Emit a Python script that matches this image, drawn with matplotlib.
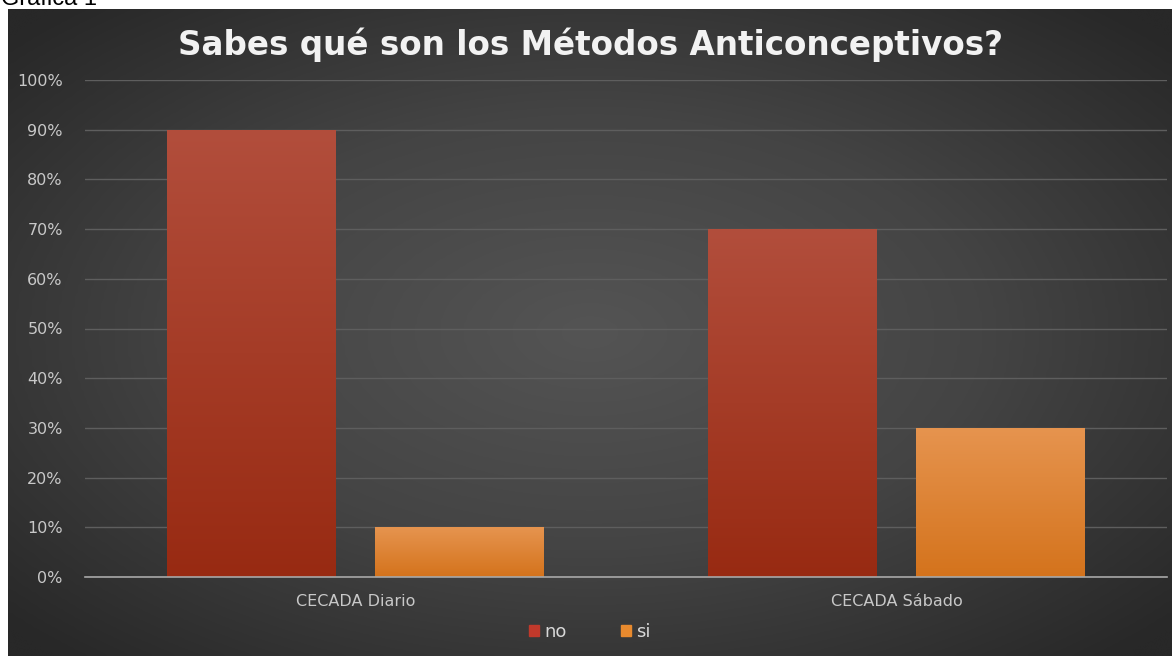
import numpy as np
import matplotlib.pyplot as plt
from matplotlib.colors import LinearSegmentedColormap
from matplotlib.patches import Rectangle

# Data
categories = ['CECADA Diario', 'CECADA Sábado']
series = ['no', 'si']
no_vals = [0.90, 0.70]
si_vals = [0.10, 0.30]
yticks = [0.0, 0.1, 0.2, 0.3, 0.4, 0.5, 0.6, 0.7, 0.8, 0.9, 1.0]
title = 'Sabes qué son los Métodos Anticonceptivos?'

W, H = 1172, 656
fig = plt.figure(figsize=(W / 100, H / 100), dpi=100, facecolor='white')

# dark radial background (leaves a white strip at top and left)
bg = fig.add_axes([8 / W, 0, 1 - 8 / W, 1 - 9 / H])
gx, gy = np.meshgrid(np.linspace(-1, 1, 400), np.linspace(-1, 1, 240))
r = np.clip(np.sqrt(gx**2 + gy**2) / 1.35, 0, 1)
bg_cmap = LinearSegmentedColormap.from_list('bg', ['#545454', '#444444', '#282828'])
bg.imshow(r, cmap=bg_cmap, aspect='auto', extent=(0, 1, 0, 1), interpolation='bicubic')
bg.set_axis_off()

# cut-off caption above the chart (only its lower part shows, as in the source)
fig.text(1 / W, 1.0 + 1 / H, 'Gráfica 1', fontsize=17, color='black', va='center', ha='left',
         family='Liberation Sans')

ax = fig.add_axes([85 / W, 1 - 577 / H, 1082 / W, 497 / H])
ax.patch.set_alpha(0)
x = np.arange(len(categories))
width = 0.312
offset = 0.192

no_cmap = LinearSegmentedColormap.from_list('no', ['#982a12', '#b24e3c'])
si_cmap = LinearSegmentedColormap.from_list('si', ['#d4731c', '#e6944f'])
grad = np.linspace(0, 1, 256).reshape(-1, 1)


def gradient_bars(xs, vals, cmap):
    for xi, v in zip(xs, vals):
        x0 = xi - width / 2
        im = ax.imshow(grad, cmap=cmap, aspect='auto', origin='lower',
                       extent=(x0, x0 + width, 0, v), zorder=3)
        rect = Rectangle((x0, 0), width, v, transform=ax.transData)
        im.set_clip_path(rect)


gradient_bars(x - offset, no_vals, no_cmap)
gradient_bars(x + offset, si_vals, si_cmap)

ax.set_xlim(-0.5, 1.5)
ax.set_ylim(0, 1)
ax.set_yticks(yticks)
ax.set_yticklabels([f'{int(round(t * 100))}%' for t in yticks])
ax.set_xticks(x)
ax.set_xticklabels(categories)
ax.tick_params(axis='both', length=0, colors='#c8c8c8', labelsize=11.5)
ax.tick_params(axis='y', pad=16)
ax.tick_params(axis='x', pad=12)
for t in ax.get_yticklabels() + ax.get_xticklabels():
    t.set_family('DejaVu Sans')
ax.grid(axis='y', color='#5e5e5e', linewidth=1.0, zorder=0)
ax.set_axisbelow(True)
for s in ['top', 'right', 'left']:
    ax.spines[s].set_visible(False)
ax.spines['bottom'].set_color('#a8a8a8')
ax.spines['bottom'].set_linewidth(1.2)
ax.spines['bottom'].set_zorder(4)

# legend
handles = [Rectangle((0, 0), 1, 1, color='#c0392b'), Rectangle((0, 0), 1, 1, color='#e88a2e')]
leg = fig.legend(handles, series, loc='center', bbox_to_anchor=(590 / W, 1 - 632 / H), ncol=2,
                 frameon=False, fontsize=13, handlelength=0.55, handleheight=0.55,
                 handletextpad=0.3, columnspacing=3.0, labelcolor='#d8d8d8')

fig.text(590 / W, 1 - 45 / H, title, ha='center', va='center', fontsize=23.5,
         fontweight='bold', color='#f2f2f2', family='DejaVu Sans')

fig.savefig('out.png', dpi=100, facecolor='white')
